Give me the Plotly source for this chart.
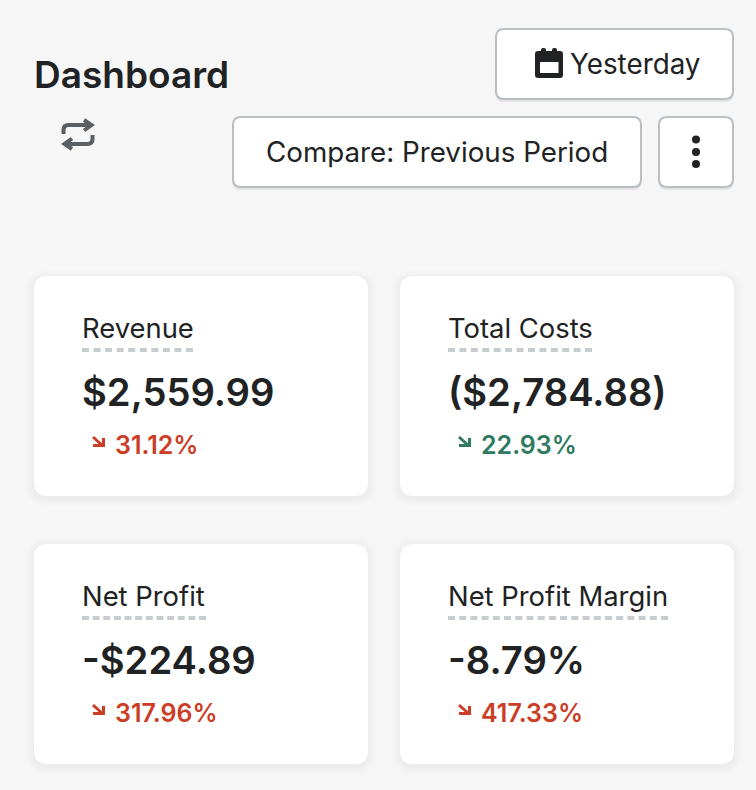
#!/usr/bin/env python3
# -*- coding: utf-8 -*-

"""
Dashboard KPI cards drawn with plotly shapes and annotations.
"""

import plotly.graph_objects as go

WIDTH = 756
HEIGHT = 790
FONT = 'Inter'
TEXT_COLOR = '#202223'
RED = '#cc3d26'
GREEN = '#2f7a61'

title = 'Dashboard'
date_label = 'Yesterday'
compare_label = 'Compare: Previous Period'

card_labels = ['Revenue', 'Total Costs', 'Net Profit', 'Net Profit Margin']
card_values = ['$2,559.99', '($2,784.88)', '-$224.89', '-8.79%']
card_deltas = ['31.12%', '22.93%', '317.96%', '417.33%']
delta_good = [False, True, False, False]
label_widths = [111, 144, 124, 220]


def rounded(x0, y0, x1, y1, r):
    """
    SVG path of a rounded rectangle.
    """
    return ('M%s,%s L%s,%s Q%s,%s %s,%s L%s,%s Q%s,%s %s,%s L%s,%s Q%s,%s %s,%s L%s,%s Q%s,%s %s,%s Z' % (
        x0 + r, y0, x1 - r, y0, x1, y0, x1, y0 + r,
        x1, y1 - r, x1, y1, x1 - r, y1,
        x0 + r, y1, x0, y1, x0, y1 - r,
        x0, y0 + r, x0, y0, x0 + r, y0))


shapes = []
annotations = []


def add_path(path, fill=None, line=None, width=0, dash=None):
    shape = dict(type='path', path=path, xref='x', yref='y', layer='above',
                 line=dict(width=width, color=line or 'rgba(0,0,0,0)'))
    if fill:
        shape['fillcolor'] = fill
    if dash:
        shape['line']['dash'] = dash
    shapes.append(shape)


def add_text(x, y, text, size, color=TEXT_COLOR, weight=400, anchor='left'):
    annotations.append(dict(x=x, y=y, xref='x', yref='y', text=text, showarrow=False,
                            xanchor=anchor, yanchor='middle', align='left',
                            borderpad=0, borderwidth=0,
                            font=dict(family=FONT, size=size, color=color, weight=weight)))


def add_button(x0, y0, x1, y1):
    add_path(rounded(x0 - 1, y0 + 1, x1 + 1, y1 + 3, 9), fill='rgba(0,0,0,0.07)')
    add_path(rounded(x0, y0, x1, y1, 8), fill='#ffffff', line='#babfc3', width=2)


def add_card(x0, y0, label, value, delta, good, label_width):
    x1, y1 = x0 + 334, y0 + 220
    for grow, alpha in ((8, 0.006), (6, 0.007), (4, 0.008), (2, 0.01)):
        add_path(rounded(x0 - grow, y0 - grow + 2, x1 + grow, y1 + grow + 2, 12 + grow),
                 fill='rgba(23,24,24,%s)' % alpha)
    add_path(rounded(x0, y0, x1, y1, 14), fill='#ffffff')

    add_text(x0 + 47.5, y0 + 52, label, 27.4)
    # end the dashed underline on a whole dash
    n_dash = round((label_width + 4) / 11)
    gap = (label_width - n_dash * 7) / (n_dash - 1)
    add_path('M%s,%s L%s,%s' % (x0 + 48, y0 + 74, x0 + 48 + label_width, y0 + 74),
             line='#c9cccf', width=4, dash='7px,%spx' % round(gap, 2))
    add_text(x0 + 47.5, y0 + 116, value, 38.2, weight=600)

    color = GREEN if good else RED
    ax, ay = x0 + 59, y0 + 161
    add_path('M%s,%s L%s,%s' % (ax, ay, ax + 10, ay + 9), line=color, width=3)
    add_path('M%s,%s L%s,%s L%s,%s' % (ax + 10.5, ay + 1, ax + 10.5, ay + 8.5, ax, ay + 8.5),
             line=color, width=3)
    add_text(x0 + 80.5, y0 + 168.5, delta, 25, color=color, weight=600)


add_text(34, 74.5, title, 37, weight=600)

# Swap icon
add_path('M63.5,134 L63.5,130 Q63.5,125 68.5,125 L91,125', line='#5c5f62', width=4)
add_path('M84,120 L91.5,125 L84,130.5', line='#5c5f62', width=4)
add_path('M92.5,135 L92.5,139 Q92.5,144 87.5,144 L65,144', line='#5c5f62', width=4)
add_path('M72,138.5 L64.5,144 L72,149', line='#5c5f62', width=4)

add_button(496, 29, 733, 99)
add_button(233, 117, 641, 187)
add_button(659, 117, 733, 187)

# Calendar icon
add_path(rounded(535, 51, 563, 78, 3), fill=TEXT_COLOR)
add_path(rounded(541, 48, 546, 54, 2), fill=TEXT_COLOR)
add_path(rounded(552, 48, 557, 54, 2), fill=TEXT_COLOR)
add_path('M540,62 L558.5,62 L558.5,73 L540,73 Z', fill='#ffffff')
add_text(569.5, 64, date_label, 27.8)

add_text(266, 152, compare_label, 27.75)

# Menu dots
for dot_y in (139.5, 152, 164):
    shapes.append(dict(type='circle', xref='x', yref='y', layer='above',
                       x0=692, x1=700, y0=dot_y - 4, y1=dot_y + 4,
                       fillcolor=TEXT_COLOR, line=dict(width=0)))

card_x = [34, 400, 34, 400]
card_y = [276, 276, 544, 544]
for i in range(len(card_labels)):
    add_card(card_x[i], card_y[i], card_labels[i], card_values[i],
             card_deltas[i], delta_good[i], label_widths[i])

fig = go.Figure()
fig.update_layout(
    width=WIDTH, height=HEIGHT,
    margin=dict(l=0, r=0, t=0, b=0),
    paper_bgcolor='#f6f6f7', plot_bgcolor='#f6f6f7',
    showlegend=False,
    xaxis=dict(visible=False, range=[0, WIDTH], fixedrange=True),
    yaxis=dict(visible=False, range=[HEIGHT, 0], fixedrange=True),
    shapes=shapes, annotations=annotations,
)

fig.write_html('out.html', config=dict(displayModeBar=False),
               post_script="document.body.style.margin='0';document.body.style.overflow='hidden';")
